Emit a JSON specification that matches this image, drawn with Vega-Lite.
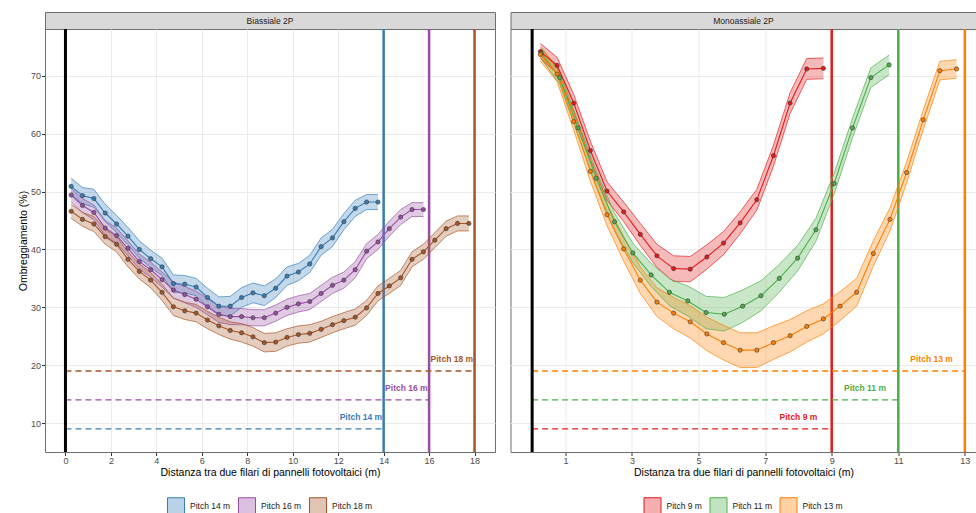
{
  "$schema": "https://vega.github.io/schema/vega-lite/v6.json",
  "padding": {"left": 17, "top": 11, "right": 0, "bottom": 0},
  "config": {
    "font": "Liberation Sans",
    "view": {"stroke": null},
    "axis": {"domain": false, "gridColor": "#ebebeb", "labelColor": "#4d4d4d", "labelFontSize": 9, "labelOverlap": false, "tickColor": "#333333", "tickSize": 3.5, "labelPadding": 1, "titleFontSize": 10.5, "titleFontWeight": "normal", "titleColor": "#000000", "titlePadding": 2},
    "legend": {"layout": {"bottom": {"anchor": "middle"}}}
  },
  "datasets": {
    "leftData": [
      {"series":"Pitch 14 m","x":0.25,"y":50.9,"lo":49.5,"hi":52.3},
      {"series":"Pitch 14 m","x":0.75,"y":49.3,"lo":47.9,"hi":50.7},
      {"series":"Pitch 14 m","x":1.25,"y":48.8,"lo":47.3,"hi":50.4},
      {"series":"Pitch 14 m","x":1.75,"y":46.3,"lo":44.8,"hi":47.8},
      {"series":"Pitch 14 m","x":2.25,"y":44.4,"lo":42.9,"hi":45.9},
      {"series":"Pitch 14 m","x":2.75,"y":42.3,"lo":40.8,"hi":43.8},
      {"series":"Pitch 14 m","x":3.25,"y":40.0,"lo":38.5,"hi":41.5},
      {"series":"Pitch 14 m","x":3.75,"y":38.4,"lo":36.9,"hi":39.9},
      {"series":"Pitch 14 m","x":4.25,"y":37.0,"lo":35.5,"hi":38.5},
      {"series":"Pitch 14 m","x":4.75,"y":34.1,"lo":32.6,"hi":35.6},
      {"series":"Pitch 14 m","x":5.25,"y":34.0,"lo":32.5,"hi":35.5},
      {"series":"Pitch 14 m","x":5.75,"y":33.5,"lo":32.0,"hi":35.0},
      {"series":"Pitch 14 m","x":6.25,"y":31.7,"lo":30.1,"hi":33.3},
      {"series":"Pitch 14 m","x":6.75,"y":30.2,"lo":28.6,"hi":31.8},
      {"series":"Pitch 14 m","x":7.25,"y":30.2,"lo":28.5,"hi":31.9},
      {"series":"Pitch 14 m","x":7.75,"y":31.7,"lo":30.0,"hi":33.4},
      {"series":"Pitch 14 m","x":8.25,"y":32.5,"lo":30.8,"hi":34.2},
      {"series":"Pitch 14 m","x":8.75,"y":32.0,"lo":30.3,"hi":33.7},
      {"series":"Pitch 14 m","x":9.25,"y":33.3,"lo":31.7,"hi":34.9},
      {"series":"Pitch 14 m","x":9.75,"y":35.4,"lo":33.8,"hi":37.0},
      {"series":"Pitch 14 m","x":10.25,"y":36.1,"lo":34.6,"hi":37.6},
      {"series":"Pitch 14 m","x":10.75,"y":37.5,"lo":36.0,"hi":39.0},
      {"series":"Pitch 14 m","x":11.25,"y":40.5,"lo":39.0,"hi":42.0},
      {"series":"Pitch 14 m","x":11.75,"y":42.0,"lo":40.5,"hi":43.5},
      {"series":"Pitch 14 m","x":12.25,"y":44.8,"lo":43.4,"hi":46.2},
      {"series":"Pitch 14 m","x":12.75,"y":47.1,"lo":45.7,"hi":48.5},
      {"series":"Pitch 14 m","x":13.25,"y":48.2,"lo":46.9,"hi":49.5},
      {"series":"Pitch 14 m","x":13.75,"y":48.2,"lo":46.9,"hi":49.5},
      {"series":"Pitch 16 m","x":0.25,"y":49.4,"lo":48.2,"hi":50.6},
      {"series":"Pitch 16 m","x":0.75,"y":47.6,"lo":46.4,"hi":48.8},
      {"series":"Pitch 16 m","x":1.25,"y":46.4,"lo":45.1,"hi":47.7},
      {"series":"Pitch 16 m","x":1.75,"y":43.7,"lo":42.4,"hi":45.0},
      {"series":"Pitch 16 m","x":2.25,"y":42.4,"lo":41.1,"hi":43.7},
      {"series":"Pitch 16 m","x":2.75,"y":40.2,"lo":38.9,"hi":41.5},
      {"series":"Pitch 16 m","x":3.25,"y":37.9,"lo":36.6,"hi":39.2},
      {"series":"Pitch 16 m","x":3.75,"y":36.5,"lo":35.2,"hi":37.8},
      {"series":"Pitch 16 m","x":4.25,"y":34.8,"lo":33.5,"hi":36.1},
      {"series":"Pitch 16 m","x":4.75,"y":33.0,"lo":31.6,"hi":34.4},
      {"series":"Pitch 16 m","x":5.25,"y":32.2,"lo":30.8,"hi":33.6},
      {"series":"Pitch 16 m","x":5.75,"y":31.4,"lo":30.0,"hi":32.8},
      {"series":"Pitch 16 m","x":6.25,"y":30.1,"lo":28.7,"hi":31.5},
      {"series":"Pitch 16 m","x":6.75,"y":28.8,"lo":27.4,"hi":30.2},
      {"series":"Pitch 16 m","x":7.25,"y":28.4,"lo":27.0,"hi":29.8},
      {"series":"Pitch 16 m","x":7.75,"y":28.4,"lo":27.0,"hi":29.8},
      {"series":"Pitch 16 m","x":8.25,"y":28.2,"lo":26.8,"hi":29.6},
      {"series":"Pitch 16 m","x":8.75,"y":28.2,"lo":26.8,"hi":29.6},
      {"series":"Pitch 16 m","x":9.25,"y":29.0,"lo":27.6,"hi":30.4},
      {"series":"Pitch 16 m","x":9.75,"y":30.0,"lo":28.6,"hi":31.4},
      {"series":"Pitch 16 m","x":10.25,"y":30.6,"lo":29.2,"hi":32.0},
      {"series":"Pitch 16 m","x":10.75,"y":31.0,"lo":29.6,"hi":32.4},
      {"series":"Pitch 16 m","x":11.25,"y":32.4,"lo":31.0,"hi":33.8},
      {"series":"Pitch 16 m","x":11.75,"y":33.8,"lo":32.4,"hi":35.2},
      {"series":"Pitch 16 m","x":12.25,"y":34.7,"lo":33.3,"hi":36.1},
      {"series":"Pitch 16 m","x":12.75,"y":36.5,"lo":35.1,"hi":37.9},
      {"series":"Pitch 16 m","x":13.25,"y":39.7,"lo":38.4,"hi":41.0},
      {"series":"Pitch 16 m","x":13.75,"y":41.3,"lo":40.0,"hi":42.6},
      {"series":"Pitch 16 m","x":14.25,"y":43.6,"lo":42.3,"hi":44.9},
      {"series":"Pitch 16 m","x":14.75,"y":45.6,"lo":44.3,"hi":46.9},
      {"series":"Pitch 16 m","x":15.25,"y":46.9,"lo":45.7,"hi":48.1},
      {"series":"Pitch 16 m","x":15.75,"y":46.9,"lo":45.7,"hi":48.1},
      {"series":"Pitch 18 m","x":0.25,"y":46.6,"lo":45.4,"hi":47.8},
      {"series":"Pitch 18 m","x":0.75,"y":45.2,"lo":44.0,"hi":46.4},
      {"series":"Pitch 18 m","x":1.25,"y":44.4,"lo":43.1,"hi":45.7},
      {"series":"Pitch 18 m","x":1.75,"y":42.2,"lo":40.9,"hi":43.5},
      {"series":"Pitch 18 m","x":2.25,"y":40.9,"lo":39.6,"hi":42.2},
      {"series":"Pitch 18 m","x":2.75,"y":38.3,"lo":37.0,"hi":39.6},
      {"series":"Pitch 18 m","x":3.25,"y":36.2,"lo":34.9,"hi":37.5},
      {"series":"Pitch 18 m","x":3.75,"y":34.7,"lo":33.4,"hi":36.0},
      {"series":"Pitch 18 m","x":4.25,"y":32.6,"lo":31.2,"hi":34.0},
      {"series":"Pitch 18 m","x":4.75,"y":30.1,"lo":28.6,"hi":31.6},
      {"series":"Pitch 18 m","x":5.25,"y":29.4,"lo":27.9,"hi":30.9},
      {"series":"Pitch 18 m","x":5.75,"y":29.0,"lo":27.5,"hi":30.5},
      {"series":"Pitch 18 m","x":6.25,"y":27.8,"lo":26.3,"hi":29.3},
      {"series":"Pitch 18 m","x":6.75,"y":26.8,"lo":25.3,"hi":28.3},
      {"series":"Pitch 18 m","x":7.25,"y":26.0,"lo":24.5,"hi":27.5},
      {"series":"Pitch 18 m","x":7.75,"y":25.6,"lo":24.0,"hi":27.2},
      {"series":"Pitch 18 m","x":8.25,"y":24.9,"lo":23.3,"hi":26.5},
      {"series":"Pitch 18 m","x":8.75,"y":23.9,"lo":22.3,"hi":25.5},
      {"series":"Pitch 18 m","x":9.25,"y":24.0,"lo":22.4,"hi":25.6},
      {"series":"Pitch 18 m","x":9.75,"y":24.8,"lo":23.3,"hi":26.3},
      {"series":"Pitch 18 m","x":10.25,"y":25.3,"lo":23.8,"hi":26.8},
      {"series":"Pitch 18 m","x":10.75,"y":25.5,"lo":24.0,"hi":27.0},
      {"series":"Pitch 18 m","x":11.25,"y":26.2,"lo":24.8,"hi":27.6},
      {"series":"Pitch 18 m","x":11.75,"y":27.0,"lo":25.6,"hi":28.4},
      {"series":"Pitch 18 m","x":12.25,"y":27.7,"lo":26.3,"hi":29.1},
      {"series":"Pitch 18 m","x":12.75,"y":28.3,"lo":26.9,"hi":29.7},
      {"series":"Pitch 18 m","x":13.25,"y":29.9,"lo":28.6,"hi":31.2},
      {"series":"Pitch 18 m","x":13.75,"y":32.4,"lo":31.1,"hi":33.7},
      {"series":"Pitch 18 m","x":14.25,"y":33.7,"lo":32.4,"hi":35.0},
      {"series":"Pitch 18 m","x":14.75,"y":35.1,"lo":33.8,"hi":36.4},
      {"series":"Pitch 18 m","x":15.25,"y":38.3,"lo":37.0,"hi":39.6},
      {"series":"Pitch 18 m","x":15.75,"y":39.6,"lo":38.3,"hi":40.9},
      {"series":"Pitch 18 m","x":16.25,"y":41.6,"lo":40.3,"hi":42.9},
      {"series":"Pitch 18 m","x":16.75,"y":43.6,"lo":42.3,"hi":44.9},
      {"series":"Pitch 18 m","x":17.25,"y":44.5,"lo":43.2,"hi":45.8},
      {"series":"Pitch 18 m","x":17.75,"y":44.5,"lo":43.2,"hi":45.8}
    ],
    "rightData": [
      {"series":"Pitch 9 m","x":0.25,"y":74.2,"lo":73.0,"hi":75.6},
      {"series":"Pitch 9 m","x":0.75,"y":71.8,"lo":70.4,"hi":73.2},
      {"series":"Pitch 9 m","x":1.25,"y":65.3,"lo":63.8,"hi":66.8},
      {"series":"Pitch 9 m","x":1.75,"y":57.1,"lo":55.5,"hi":58.7},
      {"series":"Pitch 9 m","x":2.25,"y":50.1,"lo":48.5,"hi":51.7},
      {"series":"Pitch 9 m","x":2.75,"y":46.5,"lo":44.8,"hi":48.2},
      {"series":"Pitch 9 m","x":3.25,"y":42.6,"lo":40.7,"hi":44.5},
      {"series":"Pitch 9 m","x":3.75,"y":38.9,"lo":36.9,"hi":40.9},
      {"series":"Pitch 9 m","x":4.25,"y":36.7,"lo":34.5,"hi":38.9},
      {"series":"Pitch 9 m","x":4.75,"y":36.6,"lo":34.4,"hi":38.8},
      {"series":"Pitch 9 m","x":5.25,"y":38.7,"lo":36.6,"hi":40.8},
      {"series":"Pitch 9 m","x":5.75,"y":41.1,"lo":39.1,"hi":43.1},
      {"series":"Pitch 9 m","x":6.25,"y":44.6,"lo":42.7,"hi":46.5},
      {"series":"Pitch 9 m","x":6.75,"y":48.6,"lo":46.8,"hi":50.4},
      {"series":"Pitch 9 m","x":7.25,"y":56.2,"lo":54.4,"hi":58.0},
      {"series":"Pitch 9 m","x":7.75,"y":65.3,"lo":63.5,"hi":67.1},
      {"series":"Pitch 9 m","x":8.25,"y":71.2,"lo":69.4,"hi":73.0},
      {"series":"Pitch 9 m","x":8.75,"y":71.3,"lo":69.5,"hi":73.1},
      {"series":"Pitch 11 m","x":0.275,"y":73.9,"lo":72.9,"hi":74.9},
      {"series":"Pitch 11 m","x":0.825,"y":69.7,"lo":68.6,"hi":70.8},
      {"series":"Pitch 11 m","x":1.375,"y":61.0,"lo":59.8,"hi":62.2},
      {"series":"Pitch 11 m","x":1.925,"y":52.3,"lo":51.0,"hi":53.6},
      {"series":"Pitch 11 m","x":2.475,"y":44.8,"lo":43.3,"hi":46.3},
      {"series":"Pitch 11 m","x":3.025,"y":39.4,"lo":37.7,"hi":41.1},
      {"series":"Pitch 11 m","x":3.575,"y":35.6,"lo":33.6,"hi":37.6},
      {"series":"Pitch 11 m","x":4.125,"y":32.6,"lo":30.3,"hi":34.9},
      {"series":"Pitch 11 m","x":4.675,"y":31.1,"lo":28.5,"hi":33.7},
      {"series":"Pitch 11 m","x":5.225,"y":29.1,"lo":26.3,"hi":31.9},
      {"series":"Pitch 11 m","x":5.775,"y":28.8,"lo":25.9,"hi":31.7},
      {"series":"Pitch 11 m","x":6.325,"y":30.2,"lo":27.4,"hi":33.0},
      {"series":"Pitch 11 m","x":6.875,"y":32.0,"lo":29.4,"hi":34.6},
      {"series":"Pitch 11 m","x":7.425,"y":35.0,"lo":32.6,"hi":37.4},
      {"series":"Pitch 11 m","x":7.975,"y":38.5,"lo":36.3,"hi":40.7},
      {"series":"Pitch 11 m","x":8.525,"y":43.4,"lo":41.4,"hi":45.4},
      {"series":"Pitch 11 m","x":9.075,"y":51.4,"lo":49.6,"hi":53.2},
      {"series":"Pitch 11 m","x":9.625,"y":61.0,"lo":59.3,"hi":62.7},
      {"series":"Pitch 11 m","x":10.175,"y":69.7,"lo":68.0,"hi":71.4},
      {"series":"Pitch 11 m","x":10.725,"y":71.9,"lo":70.2,"hi":73.6},
      {"series":"Pitch 13 m","x":0.25,"y":73.7,"lo":72.5,"hi":74.9},
      {"series":"Pitch 13 m","x":0.75,"y":70.3,"lo":69.0,"hi":71.6},
      {"series":"Pitch 13 m","x":1.25,"y":62.1,"lo":60.6,"hi":63.6},
      {"series":"Pitch 13 m","x":1.75,"y":53.5,"lo":51.8,"hi":55.2},
      {"series":"Pitch 13 m","x":2.25,"y":46.0,"lo":44.1,"hi":47.9},
      {"series":"Pitch 13 m","x":2.75,"y":40.1,"lo":38.0,"hi":42.2},
      {"series":"Pitch 13 m","x":3.25,"y":34.7,"lo":32.4,"hi":37.0},
      {"series":"Pitch 13 m","x":3.75,"y":30.9,"lo":28.4,"hi":33.4},
      {"series":"Pitch 13 m","x":4.25,"y":29.0,"lo":26.3,"hi":31.7},
      {"series":"Pitch 13 m","x":4.75,"y":27.5,"lo":24.7,"hi":30.3},
      {"series":"Pitch 13 m","x":5.25,"y":25.4,"lo":22.5,"hi":28.3},
      {"series":"Pitch 13 m","x":5.75,"y":23.9,"lo":20.9,"hi":26.9},
      {"series":"Pitch 13 m","x":6.25,"y":22.6,"lo":19.6,"hi":25.6},
      {"series":"Pitch 13 m","x":6.75,"y":22.6,"lo":19.6,"hi":25.6},
      {"series":"Pitch 13 m","x":7.25,"y":23.9,"lo":21.0,"hi":26.8},
      {"series":"Pitch 13 m","x":7.75,"y":25.1,"lo":22.3,"hi":27.9},
      {"series":"Pitch 13 m","x":8.25,"y":26.7,"lo":24.0,"hi":29.4},
      {"series":"Pitch 13 m","x":8.75,"y":28.0,"lo":25.4,"hi":30.6},
      {"series":"Pitch 13 m","x":9.25,"y":30.2,"lo":27.7,"hi":32.7},
      {"series":"Pitch 13 m","x":9.75,"y":32.6,"lo":30.2,"hi":35.0},
      {"series":"Pitch 13 m","x":10.25,"y":39.3,"lo":37.1,"hi":41.5},
      {"series":"Pitch 13 m","x":10.75,"y":45.2,"lo":43.2,"hi":47.2},
      {"series":"Pitch 13 m","x":11.25,"y":53.3,"lo":51.5,"hi":55.1},
      {"series":"Pitch 13 m","x":11.75,"y":62.4,"lo":60.7,"hi":64.1},
      {"series":"Pitch 13 m","x":12.25,"y":70.9,"lo":69.3,"hi":72.5},
      {"series":"Pitch 13 m","x":12.75,"y":71.2,"lo":69.6,"hi":72.8}
    ],
    "leftRefs": [
      {"series":"Pitch 14 m","start":0,"pitch":14,"level":9,"lx":13,"ly":11},
      {"series":"Pitch 16 m","start":0,"pitch":16,"level":14,"lx":15,"ly":16},
      {"series":"Pitch 18 m","start":0,"pitch":18,"level":19,"lx":17,"ly":21}
    ],
    "rightRefs": [
      {"series":"Pitch 9 m","start":0,"pitch":9,"level":9,"lx":8,"ly":11},
      {"series":"Pitch 11 m","start":0,"pitch":11,"level":14,"lx":10,"ly":16},
      {"series":"Pitch 13 m","start":0,"pitch":13,"level":19,"lx":12,"ly":21}
    ]
  },
  "resolve": {"scale": {"x": "independent", "y": "independent", "color": "independent"}, "legend": {"color": "independent"}},
  "spacing": 13.5,
  "hconcat": [
    {
      "vconcat": [
        {
          "width": 450, "height": 17,
          "view": {"fill": "#d9d9d9", "stroke": "#6e6e6e"},
          "data": {"values": [{"t": "Biassiale 2P"}]},
          "mark": {"type": "text", "fontSize": 8.5, "color": "#1a1a1a", "baseline": "middle", "align": "center"},
          "encoding": {"text": {"field": "t"}}
        },
        {
          "name": "left",
          "width": 450, "height": 423,
          "view": {"stroke": "#6e6e6e"},
          "resolve": {"axis": {"x": "independent", "y": "independent"}},
          "layer": [
            {
              "data": {"name": "leftRefs"},
              "mark": {"type": "rule", "strokeWidth": 2.5},
              "encoding": {
                "x": {"field": "pitch", "type": "quantitative", "scale": {"domain": [-0.9, 18.9], "nice": false, "zero": false}, "axis": {"orient": "bottom", "title": "Distanza tra due filari di pannelli fotovoltaici (m)", "values": [0,2,4,6,8,10,12,14,16,18], "gridWidth": 1}},
                "color": {"field": "series", "type": "nominal", "scale": {"domain": ["Pitch 14 m", "Pitch 16 m", "Pitch 18 m"], "range": ["#377EB8", "#984EA3", "#A65628"]}, "legend": {"orient": "bottom", "direction": "horizontal", "title": null, "symbolType": "square", "symbolSize": 289, "symbolStrokeWidth": 1, "labelFontSize": 8.5, "labelColor": "#1a1a1a", "columnPadding": 5, "labelOffset": 5, "offset": 19, "encode": {"symbols": {"update": {"fill": {"scale": "left_color", "field": "value"}, "fillOpacity": {"value": 0.35}, "stroke": {"scale": "left_color", "field": "value"}, "strokeOpacity": {"value": 1}, "opacity": {"value": 1}}}}}}
              }
            },
            {
              "data": {"name": "leftRefs"},
              "mark": {"type": "rule", "strokeWidth": 1.3, "strokeDash": [6, 4]},
              "encoding": {
                "x": {"field": "start", "type": "quantitative", "axis": null},
                "x2": {"field": "pitch"},
                "y": {"field": "level", "type": "quantitative", "scale": {"domain": [5, 78.1], "nice": false, "zero": false}, "axis": {"orient": "left", "title": "Ombreggiamento (%)", "values": [10,20,30,40,50,60,70], "gridWidth": 1}},
                "color": {"field": "series", "type": "nominal"}
              }
            },
            {
              "data": {"values": [{"z": 0}]},
              "mark": {"type": "rule", "color": "#000000", "strokeWidth": 3},
              "encoding": {"x": {"field": "z", "type": "quantitative", "axis": null}}
            },
            {
              "data": {"name": "leftData"},
              "mark": {"type": "area", "opacity": 0.3},
              "encoding": {
                "x": {"field": "x", "type": "quantitative", "axis": {"orient": "top", "title": null, "labels": false, "ticks": false, "values": [1,3,5,7,9,11,13,15,17], "gridWidth": 0.6}},
                "y": {"field": "lo", "type": "quantitative", "axis": {"orient": "right", "title": null, "labels": false, "ticks": false, "values": [5,15,25,35,45,55,65,75], "gridWidth": 0.6}},
                "y2": {"field": "hi"},
                "color": {"field": "series", "type": "nominal"}
              }
            },
            {
              "data": {"name": "leftData"},
              "mark": {"type": "line", "strokeWidth": 0.8, "opacity": 0.85},
              "encoding": {
                "x": {"field": "x", "type": "quantitative", "axis": null},
                "y": {"field": "lo", "type": "quantitative", "axis": null},
                "color": {"field": "series", "type": "nominal"}
              }
            },
            {
              "data": {"name": "leftData"},
              "mark": {"type": "line", "strokeWidth": 0.8, "opacity": 0.85},
              "encoding": {
                "x": {"field": "x", "type": "quantitative", "axis": null},
                "y": {"field": "hi", "type": "quantitative", "axis": null},
                "color": {"field": "series", "type": "nominal"}
              }
            },
            {
              "data": {"name": "leftData"},
              "mark": {"type": "line", "strokeWidth": 1.1},
              "encoding": {
                "x": {"field": "x", "type": "quantitative", "axis": null},
                "y": {"field": "y", "type": "quantitative", "axis": null},
                "color": {"field": "series", "type": "nominal"}
              }
            },
            {
              "data": {"name": "leftData"},
              "mark": {"type": "point", "filled": true, "size": 18, "stroke": "#333333", "strokeWidth": 0.6, "opacity": 1},
              "encoding": {
                "x": {"field": "x", "type": "quantitative", "axis": null},
                "y": {"field": "y", "type": "quantitative", "axis": null},
                "color": {"field": "series", "type": "nominal"}
              }
            },
            {
              "data": {"name": "leftRefs"},
              "mark": {"type": "text", "fontWeight": "bold", "fontSize": 8.5, "baseline": "middle", "align": "center"},
              "encoding": {
                "x": {"field": "lx", "type": "quantitative", "axis": null},
                "y": {"field": "ly", "type": "quantitative", "axis": null},
                "text": {"field": "series"},
                "color": {"field": "series", "type": "nominal"}
              }
            }
          ]
        }
      ],
      "spacing": 0,
      "bounds": "flush",
      "resolve": {"scale": {"color": "independent"}, "legend": {"color": "independent"}}
    },
    {
      "vconcat": [
        {
          "width": 466, "height": 17,
          "view": {"fill": "#d9d9d9", "stroke": "#6e6e6e"},
          "data": {"values": [{"t": "Monoassiale 2P"}]},
          "mark": {"type": "text", "fontSize": 8.5, "color": "#1a1a1a", "baseline": "middle", "align": "center"},
          "encoding": {"text": {"field": "t"}}
        },
        {
          "name": "right",
          "width": 466, "height": 423,
          "view": {"stroke": "#6e6e6e"},
          "resolve": {"axis": {"x": "independent", "y": "independent"}},
          "layer": [
            {
              "data": {"name": "rightRefs"},
              "mark": {"type": "rule", "strokeWidth": 2.5},
              "encoding": {
                "x": {"field": "pitch", "type": "quantitative", "scale": {"domain": [-0.65, 13.35], "nice": false, "zero": false}, "axis": {"orient": "bottom", "title": "Distanza tra due filari di pannelli fotovoltaici (m)", "values": [1,3,5,7,9,11,13], "gridWidth": 1}},
                "color": {"field": "series", "type": "nominal", "scale": {"domain": ["Pitch 9 m", "Pitch 11 m", "Pitch 13 m"], "range": ["#E41A1C", "#4DAF4A", "#FF7F00"]}, "legend": {"orient": "bottom", "direction": "horizontal", "title": null, "symbolType": "square", "symbolSize": 289, "symbolStrokeWidth": 1, "labelFontSize": 8.5, "labelColor": "#1a1a1a", "columnPadding": 5, "labelOffset": 5, "offset": 19, "encode": {"symbols": {"update": {"fill": {"scale": "right_color", "field": "value"}, "fillOpacity": {"value": 0.35}, "stroke": {"scale": "right_color", "field": "value"}, "strokeOpacity": {"value": 1}, "opacity": {"value": 1}}}}}}
              }
            },
            {
              "data": {"name": "rightRefs"},
              "mark": {"type": "rule", "strokeWidth": 1.3, "strokeDash": [6, 4]},
              "encoding": {
                "x": {"field": "start", "type": "quantitative", "axis": null},
                "x2": {"field": "pitch"},
                "y": {"field": "level", "type": "quantitative", "scale": {"domain": [5, 78.1], "nice": false, "zero": false}, "axis": {"orient": "left", "title": null, "labels": false, "ticks": false, "values": [10,20,30,40,50,60,70], "gridWidth": 1}},
                "color": {"field": "series", "type": "nominal"}
              }
            },
            {
              "data": {"values": [{"z": 0}]},
              "mark": {"type": "rule", "color": "#000000", "strokeWidth": 3},
              "encoding": {"x": {"field": "z", "type": "quantitative", "axis": null}}
            },
            {
              "data": {"name": "rightData"},
              "mark": {"type": "area", "opacity": 0.3},
              "encoding": {
                "x": {"field": "x", "type": "quantitative", "axis": {"orient": "top", "title": null, "labels": false, "ticks": false, "values": [0,2,4,6,8,10,12], "gridWidth": 0.6}},
                "y": {"field": "lo", "type": "quantitative", "axis": {"orient": "right", "title": null, "labels": false, "ticks": false, "values": [5,15,25,35,45,55,65,75], "gridWidth": 0.6}},
                "y2": {"field": "hi"},
                "color": {"field": "series", "type": "nominal"}
              }
            },
            {
              "data": {"name": "rightData"},
              "mark": {"type": "line", "strokeWidth": 0.8, "opacity": 0.85},
              "encoding": {
                "x": {"field": "x", "type": "quantitative", "axis": null},
                "y": {"field": "lo", "type": "quantitative", "axis": null},
                "color": {"field": "series", "type": "nominal"}
              }
            },
            {
              "data": {"name": "rightData"},
              "mark": {"type": "line", "strokeWidth": 0.8, "opacity": 0.85},
              "encoding": {
                "x": {"field": "x", "type": "quantitative", "axis": null},
                "y": {"field": "hi", "type": "quantitative", "axis": null},
                "color": {"field": "series", "type": "nominal"}
              }
            },
            {
              "data": {"name": "rightData"},
              "mark": {"type": "line", "strokeWidth": 1.1},
              "encoding": {
                "x": {"field": "x", "type": "quantitative", "axis": null},
                "y": {"field": "y", "type": "quantitative", "axis": null},
                "color": {"field": "series", "type": "nominal"}
              }
            },
            {
              "data": {"name": "rightData"},
              "mark": {"type": "point", "filled": true, "size": 18, "stroke": "#333333", "strokeWidth": 0.6, "opacity": 1},
              "encoding": {
                "x": {"field": "x", "type": "quantitative", "axis": null},
                "y": {"field": "y", "type": "quantitative", "axis": null},
                "color": {"field": "series", "type": "nominal"}
              }
            },
            {
              "data": {"name": "rightRefs"},
              "mark": {"type": "text", "fontWeight": "bold", "fontSize": 8.5, "baseline": "middle", "align": "center"},
              "encoding": {
                "x": {"field": "lx", "type": "quantitative", "axis": null},
                "y": {"field": "ly", "type": "quantitative", "axis": null},
                "text": {"field": "series"},
                "color": {"field": "series", "type": "nominal"}
              }
            }
          ]
        }
      ],
      "spacing": 0,
      "bounds": "flush",
      "resolve": {"scale": {"color": "independent"}, "legend": {"color": "independent"}}
    }
  ]
}
